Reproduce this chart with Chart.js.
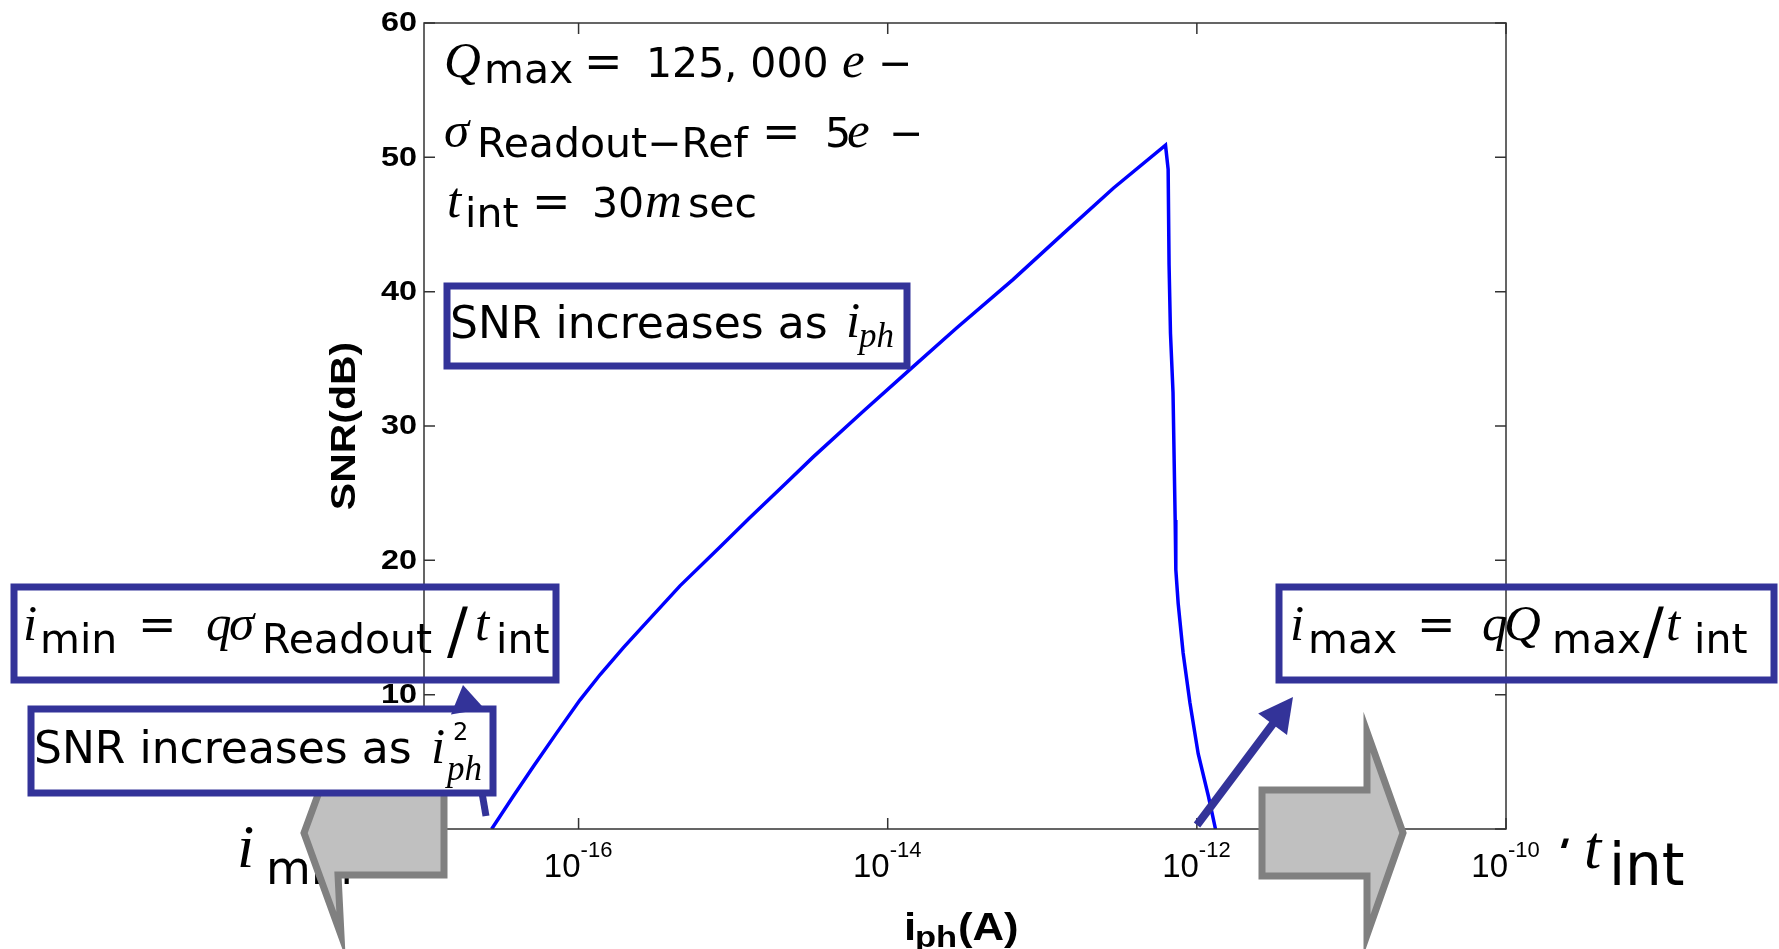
<!DOCTYPE html>
<html>
<head>
<meta charset="utf-8">
<script src="https://cdn.jsdelivr.net/npm/chart.js@4.4.0/dist/chart.umd.min.js"></script>
<style>
  html, body { margin: 0; padding: 0; background: #fff; }
  canvas { display: block; }
</style>
</head>
<body>
<canvas id="chart1" width="1779" height="949"></canvas>
<script>
// photocurrent (A) and SNR (dB)
const iph = [2.74e-17, 3.76e-17, 5.06e-17, 7.16e-17, 1.02e-16, 1.38e-16, 1.95e-16, 2.76e-16,
  4.53e-16, 8.22e-16, 1.29e-15, 2.22e-15, 3.30e-15, 6.95e-15, 1.39e-14, 2.79e-14, 6.46e-14,
  1.36e-13, 2.88e-13, 6.27e-13,
  6.52e-13, 6.61e-13, 6.75e-13, 7.01e-13, 7.24e-13, 7.31e-13, 7.57e-13, 8.15e-13, 9.02e-13,
  1.02e-12, 1.19e-12, 1.32e-12];
const snr = [0, 2.4, 4.6, 7.1, 9.6, 11.5, 13.5, 15.4,
  18.1, 21.0, 23.2, 25.8, 27.7, 31.1, 34.2, 37.3, 40.9,
  44.3, 47.7, 50.9,
  49.1, 42.0, 36.9, 32.5, 23.0, 19.3, 16.8, 13.1, 9.4,
  5.6, 2.4, 0];

const xTicks = [1e-16, 1e-14, 1e-12, 1e-10];
const xTickExp = ['-16', '-14', '-12', '-10'];
const yTicks = [0, 10, 20, 30, 40, 50, 60];

const ink = '#333399';
const SANS = '41px "DejaVu Sans"';
const SANSL = '44px "DejaVu Sans"';
const EQ = '46px "DejaVu Sans"';
const MI = 'italic 51px "Liberation Serif"';
const MISUB = 'italic 35px "Liberation Serif"';
const SLASH = '62px "DejaVu Sans"';

function put(ctx, s, px, py, font, sx, align) {
  ctx.save();
  ctx.font = font;
  ctx.translate(px, py);
  ctx.scale(sx || 1, 1);
  ctx.textAlign = align || 'left';
  ctx.fillText(s, 0, 0);
  ctx.restore();
}

function parts(ctx, list) {
  ctx.fillStyle = '#000';
  list.forEach(p => put(ctx, p[0], p[1], p[2], p[3]));
}

function box(ctx, x1, y1, x2, y2, fill) {
  if (fill) {
    ctx.fillStyle = '#fff';
    ctx.fillRect(x1, y1, x2 - x1, y2 - y1);
  }
  ctx.strokeStyle = ink;
  ctx.lineWidth = 7;
  ctx.lineJoin = 'miter';
  ctx.strokeRect(x1, y1, x2 - x1, y2 - y1);
}

function shaft(ctx, x1, y1, x2, y2, w) {
  ctx.strokeStyle = ink;
  ctx.lineWidth = w;
  ctx.lineCap = 'butt';
  ctx.beginPath();
  ctx.moveTo(x1, y1);
  ctx.lineTo(x2, y2);
  ctx.stroke();
}

function head(ctx, x1, y1, x2, y2, len, half) {
  const d = Math.hypot(x2 - x1, y2 - y1), ux = (x2 - x1) / d, uy = (y2 - y1) / d;
  const bx = x2 - ux * len, by = y2 - uy * len;
  ctx.fillStyle = ink;
  ctx.beginPath();
  ctx.moveTo(x2, y2);
  ctx.lineTo(bx - uy * half, by + ux * half);
  ctx.lineTo(bx + uy * half, by - ux * half);
  ctx.closePath();
  ctx.fill();
}

function grayArrow(ctx, pts) {
  ctx.beginPath();
  pts.forEach((p, i) => i ? ctx.lineTo(p[0], p[1]) : ctx.moveTo(p[0], p[1]));
  ctx.closePath();
  ctx.fillStyle = '#c0c0c0';
  ctx.fill();
  ctx.strokeStyle = '#808080';
  ctx.lineWidth = 7;
  ctx.lineJoin = 'miter';
  ctx.stroke();
}

const overlay = {
  id: 'overlay',
  afterDraw(chart) {
    const ctx = chart.ctx, xs = chart.scales.x, ys = chart.scales.y, a = chart.chartArea;
    ctx.save();

    // frame and inward ticks
    ctx.strokeStyle = '#333';
    ctx.lineWidth = 1.5;
    ctx.strokeRect(a.left, a.top, a.right - a.left, a.bottom - a.top);
    ctx.beginPath();
    xTicks.forEach(v => {
      const px = xs.getPixelForValue(v);
      ctx.moveTo(px, a.bottom); ctx.lineTo(px, a.bottom - 11);
      ctx.moveTo(px, a.top); ctx.lineTo(px, a.top + 11);
    });
    yTicks.forEach(v => {
      const py = ys.getPixelForValue(v);
      ctx.moveTo(a.left, py); ctx.lineTo(a.left + 11, py);
      ctx.moveTo(a.right, py); ctx.lineTo(a.right - 11, py);
    });
    ctx.stroke();

    // tick labels
    ctx.fillStyle = '#000';
    ctx.textBaseline = 'middle';
    yTicks.forEach(v => put(ctx, String(v), a.left - 7, ys.getPixelForValue(v) + 1, 'bold 27px "Liberation Sans"', 1.2, 'right'));
    ctx.textBaseline = 'alphabetic';
    xTicks.forEach((v, i) => {
      const px = xs.getPixelForValue(v);
      ctx.font = '33px "Liberation Sans"';
      const w1 = ctx.measureText('10').width;
      put(ctx, '10', px - w1 + 2, a.bottom + 48, '33px "Liberation Sans"');
      put(ctx, xTickExp[i], px + 2, a.bottom + 28, '22px "Liberation Sans"');
    });

    // axis titles
    ctx.save();
    ctx.translate(a.left - 79, (a.top + a.bottom) / 2);
    ctx.rotate(-Math.PI / 2);
    ctx.scale(1.17, 1);
    ctx.font = 'bold 35px "Liberation Sans"';
    ctx.textAlign = 'center';
    ctx.textBaseline = 'middle';
    ctx.fillText('SNR(dB)', 0, 0);
    ctx.restore();
    put(ctx, 'i', 904, 940, 'bold 38px "Liberation Sans"', 1.15);
    put(ctx, 'ph', 915, 947, 'bold 30px "Liberation Sans"', 1.15);
    put(ctx, '(A)', 958, 940, 'bold 38px "Liberation Sans"', 1.15);

    // large text partly hidden behind the grey arrows
    put(ctx, 'i', 237, 867, 'italic 62px "Liberation Serif"');
    put(ctx, 'min', 266, 884, '46px "DejaVu Sans"');
    ctx.save();
    ctx.beginPath();
    ctx.rect(1556, 800, 30, 48);
    ctx.clip();
    put(ctx, '/', 1548, 884, '62px "DejaVu Sans"');
    ctx.restore();
    put(ctx, 't', 1584, 868, 'italic 62px "Liberation Serif"');
    put(ctx, 'int', 1609, 885, '58px "DejaVu Sans"');

    // parameters
    parts(ctx, [
      ['Q', 444, 77, MI], ['max', 484, 83, SANS], ['=', 584, 77, EQ], ['125, 000', 646, 77, SANS],
      ['e', 842, 77, MI], ['\u2212', 878, 77, SANS],
      ['\u03c3', 444, 147, MI], ['Readout\u2212Ref', 477, 157, SANS], ['=', 762, 147, EQ],
      ['5', 825, 147, SANS], ['e', 847, 147, MI], ['\u2212', 889, 147, SANS],
      ['t', 447, 217, MI], ['int', 465, 227, SANS], ['=', 532, 217, EQ], ['30', 592, 217, SANS],
      ['m', 645, 217, MI], ['sec', 688, 217, SANS]
    ]);

    // SNR ~ iph box
    box(ctx, 447, 286, 907, 366, true);
    parts(ctx, [['SNR increases as', 450, 338, SANSL], ['i', 846, 337, MI], ['ph', 859, 347, MISUB]]);

    // imin box
    box(ctx, 14, 587, 556, 680, false);
    parts(ctx, [
      ['i', 23, 640, MI], ['min', 40, 653, SANS], ['=', 138, 640, EQ], ['q', 206, 640, MI],
      ['\u03c3', 229, 640, MI], ['Readout', 262, 653, SANS], ['/', 447, 652, SLASH],
      ['t', 475, 640, MI], ['int', 496, 653, SANS]
    ]);

    // imax box
    box(ctx, 1279, 587, 1774, 680, false);
    parts(ctx, [
      ['i', 1290, 640, MI], ['max', 1308, 653, SANS], ['=', 1417, 640, EQ], ['q', 1482, 640, MI],
      ['Q', 1504, 640, MI], ['max', 1552, 653, SANS], ['/', 1643, 652, SLASH],
      ['t', 1666, 640, MI], ['int', 1694, 653, SANS]
    ]);

    // blue pointer shafts
    shaft(ctx, 486, 816, 466, 700, 7);
    shaft(ctx, 1197, 825, 1275, 721, 8);

    // grey arrows
    grayArrow(ctx, [[304, 833], [341, 732], [338, 791], [444, 791], [444, 875], [338, 875], [341, 935]]);
    grayArrow(ctx, [[1403, 833], [1367, 732], [1367, 790], [1262, 790], [1262, 876], [1367, 876], [1367, 935]]);

    // SNR ~ iph^2 box
    box(ctx, 31, 709, 493, 793, true);
    parts(ctx, [['SNR increases as', 34, 763, SANSL], ['i', 431, 763, MI], ['2', 453, 740, '24px "DejaVu Sans"'], ['ph', 447, 780, MISUB]]);

    // arrow heads
    head(ctx, 486, 816, 463, 685, 27, 17);
    head(ctx, 1197, 825, 1293, 697, 34, 18);

    ctx.restore();
  }
};

new Chart('chart1', {
  type: 'line',
  data: {
    datasets: [{
      data: iph.map((v, i) => ({x: v, y: snr[i]})),
      borderColor: '#0000ff',
      borderWidth: 3.5,
      pointRadius: 0,
      tension: 0,
      fill: false
    }]
  },
  options: {
    responsive: false,
    animation: false,
    events: [],
    layout: {padding: {left: 424, right: 273, top: 23, bottom: 120}},
    plugins: {legend: {display: false}, tooltip: {enabled: false}},
    scales: {
      x: {type: 'logarithmic', min: 1e-17, max: 1e-10, display: false},
      y: {type: 'linear', min: 0, max: 60, display: false}
    }
  },
  plugins: [overlay]
});
</script>
</body>
</html>
